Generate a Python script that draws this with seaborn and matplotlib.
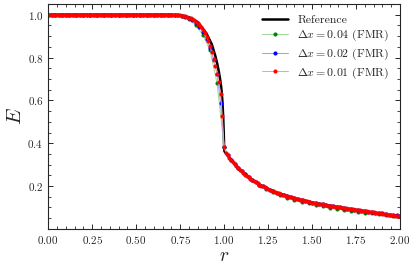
import numpy as np
import matplotlib
matplotlib.use("Agg")
import matplotlib.pyplot as plt
import seaborn as sns
from matplotlib.ticker import MultipleLocator

# reference solution (black line)
r_ref = [0.0, 0.25, 0.5, 0.7, 0.75, 0.8, 0.85, 0.9, 0.93, 0.95, 0.96, 0.97, 0.98,
         0.985, 0.99, 0.995, 0.998, 1.0, 1.002, 1.01, 1.05, 1.1, 1.15, 1.2, 1.25,
         1.3, 1.4, 1.5, 1.6, 1.7, 1.8, 1.9, 2.0]
E_ref = [1.0, 1.0, 1.0, 1.0, 0.997, 0.988, 0.966, 0.912, 0.862, 0.808, 0.775, 0.735, 0.685,
         0.65, 0.60, 0.52, 0.45, 0.385, 0.362, 0.354, 0.312, 0.268, 0.234, 0.207, 0.186,
         0.169, 0.143, 0.123, 0.108, 0.095, 0.083, 0.070, 0.058]

# dx = 0.01, r = 0.00 ... 2.00
E_001 = [1.0, 1.0, 1.0, 1.0, 1.0, 1.0, 1.0, 1.0, 1.0, 1.0,
         1.0, 1.0, 1.0, 1.0, 1.0, 1.0, 1.0, 1.0, 1.0, 1.0,
         1.0, 1.0, 1.0, 1.0, 1.0, 1.0, 1.0, 1.0, 1.0, 1.0,
         1.0, 1.0, 1.0, 1.0, 1.0, 1.0, 1.0, 1.0, 1.0, 1.0,
         1.0, 1.0, 1.0, 1.0, 1.0, 1.0, 1.0, 1.0, 1.0, 1.0,
         1.0, 1.0, 1.0, 1.0, 1.0, 1.0, 1.0, 1.0, 1.0, 1.0,
         1.0, 1.0, 1.0, 1.0, 1.0, 1.0, 1.0, 1.0, 1.0, 1.0,
         1.0, 1.0, 0.999, 0.999, 0.998, 0.997, 0.996, 0.995, 0.993, 0.990,
         0.987, 0.983, 0.979, 0.974, 0.968, 0.961, 0.952, 0.942, 0.930, 0.915,
         0.898, 0.876, 0.852, 0.826, 0.795, 0.762, 0.725, 0.684, 0.632, 0.525,
         0.382, 0.356, 0.343, 0.332, 0.322, 0.312, 0.303, 0.294, 0.286, 0.277,
         0.268, 0.260, 0.253, 0.246, 0.240, 0.234, 0.228, 0.222, 0.217, 0.212,
         0.207, 0.202, 0.198, 0.194, 0.190, 0.186, 0.182, 0.178, 0.175, 0.172,
         0.169, 0.166, 0.163, 0.160, 0.157, 0.155, 0.152, 0.150, 0.147, 0.145,
         0.143, 0.141, 0.139, 0.137, 0.135, 0.133, 0.131, 0.129, 0.127, 0.125,
         0.123, 0.121, 0.120, 0.118, 0.117, 0.115, 0.114, 0.112, 0.111, 0.109,
         0.108, 0.107, 0.105, 0.104, 0.103, 0.101, 0.100, 0.099, 0.098, 0.096,
         0.095, 0.094, 0.093, 0.091, 0.090, 0.089, 0.088, 0.087, 0.085, 0.084,
         0.083, 0.082, 0.080, 0.079, 0.078, 0.077, 0.075, 0.074, 0.073, 0.072,
         0.070, 0.069, 0.068, 0.067, 0.066, 0.064, 0.063, 0.062, 0.061, 0.060,
         0.058]

# dx = 0.02, r = 0.00 ... 2.00
E_002 = [1.0, 1.0, 1.0, 1.0, 1.0, 1.0, 1.0, 1.0, 1.0, 1.0,
         1.0, 1.0, 1.0, 1.0, 1.0, 1.0, 1.0, 1.0, 1.0, 1.0,
         1.0, 1.0, 1.0, 1.0, 1.0, 1.0, 1.0, 1.0, 1.0, 1.0,
         1.0, 1.0, 1.0, 1.0, 1.0, 1.0, 0.999, 0.997, 0.994, 0.990,
         0.984, 0.975, 0.963, 0.945, 0.920, 0.888, 0.845, 0.790, 0.725, 0.590,
         0.382, 0.343, 0.322, 0.303, 0.286, 0.269, 0.254, 0.240, 0.228, 0.217,
         0.207, 0.198, 0.190, 0.182, 0.175, 0.169, 0.163, 0.157, 0.152, 0.147,
         0.143, 0.139, 0.135, 0.131, 0.127, 0.123, 0.120, 0.117, 0.114, 0.111,
         0.108, 0.105, 0.103, 0.100, 0.098, 0.095, 0.093, 0.090, 0.088, 0.085,
         0.083, 0.080, 0.078, 0.076, 0.074, 0.072, 0.069, 0.067, 0.065, 0.063,
         0.060]

# dx = 0.04, r = 0.00 ... 2.00
E_004 = [1.0, 1.0, 1.0, 1.0, 1.0, 1.0, 1.0, 1.0, 1.0, 1.0,
         1.0, 1.0, 1.0, 1.0, 1.0, 1.0, 1.0, 1.0, 0.998, 0.993,
         0.978, 0.950, 0.905, 0.834, 0.680, 0.382, 0.320, 0.285, 0.254, 0.229,
         0.206, 0.188, 0.172, 0.158, 0.146, 0.136, 0.127, 0.119, 0.112, 0.105,
         0.099, 0.094, 0.089, 0.084, 0.080, 0.076, 0.072, 0.068, 0.065, 0.062,
         0.059]

r_001 = np.linspace(0, 2, len(E_001))
r_002 = np.linspace(0, 2, len(E_002))
r_004 = np.linspace(0, 2, len(E_004))

sns.set_style("ticks")
plt.rcParams["font.family"] = "serif"
plt.rcParams["font.serif"] = ["cmr10", "DejaVu Serif"]
plt.rcParams["mathtext.fontset"] = "cm"
plt.rcParams["axes.formatter.use_mathtext"] = True

fig = plt.figure(figsize=(4.15, 2.68), dpi=100)
ax = fig.add_axes([0.116, 0.146, 0.848, 0.839])

sns.lineplot(x=r_ref, y=E_ref, color="black", linewidth=1.8, label="Reference", ax=ax)
sns.lineplot(x=r_004, y=E_004, color="#9ad89a", linewidth=0.7, marker="o",
             markersize=2.2, markerfacecolor="green", markeredgecolor="green",
             label=r"$\Delta x = 0.04$ (FMR)", ax=ax)
sns.lineplot(x=r_002, y=E_002, color="#9a9aff", linewidth=0.7, marker="o",
             markersize=2.2, markerfacecolor="blue", markeredgecolor="blue",
             label=r"$\Delta x = 0.02$ (FMR)", ax=ax)
sns.lineplot(x=r_001, y=E_001, color="#ff9a9a", linewidth=0.7, marker="o",
             markersize=2.2, markerfacecolor="red", markeredgecolor="red",
             label=r"$\Delta x = 0.01$ (FMR)", ax=ax)

ax.set_xlim(0, 2)
ax.set_ylim(0.0, 1.05)
ax.set_yticks([0.2, 0.4, 0.6, 0.8, 1.0])
ax.xaxis.set_major_locator(MultipleLocator(0.25))
ax.xaxis.set_minor_locator(MultipleLocator(0.05))
ax.yaxis.set_minor_locator(MultipleLocator(0.05))
ax.tick_params(which="both", direction="in", top=True, right=True, labelsize=8)
ax.tick_params(which="major", length=3.5, width=0.7)
ax.tick_params(which="minor", length=2, width=0.6)
for s in ax.spines.values():
    s.set_linewidth(0.8)
ax.set_xlabel(r"$r$", fontsize=14, labelpad=1)
ax.set_ylabel(r"$E$", fontsize=15, labelpad=2)
ax.legend(loc="upper right", frameon=False, fontsize=8.5, handlelength=2.2,
          borderaxespad=0.5, labelspacing=0.28)

fig.savefig("out.png", dpi=100)
